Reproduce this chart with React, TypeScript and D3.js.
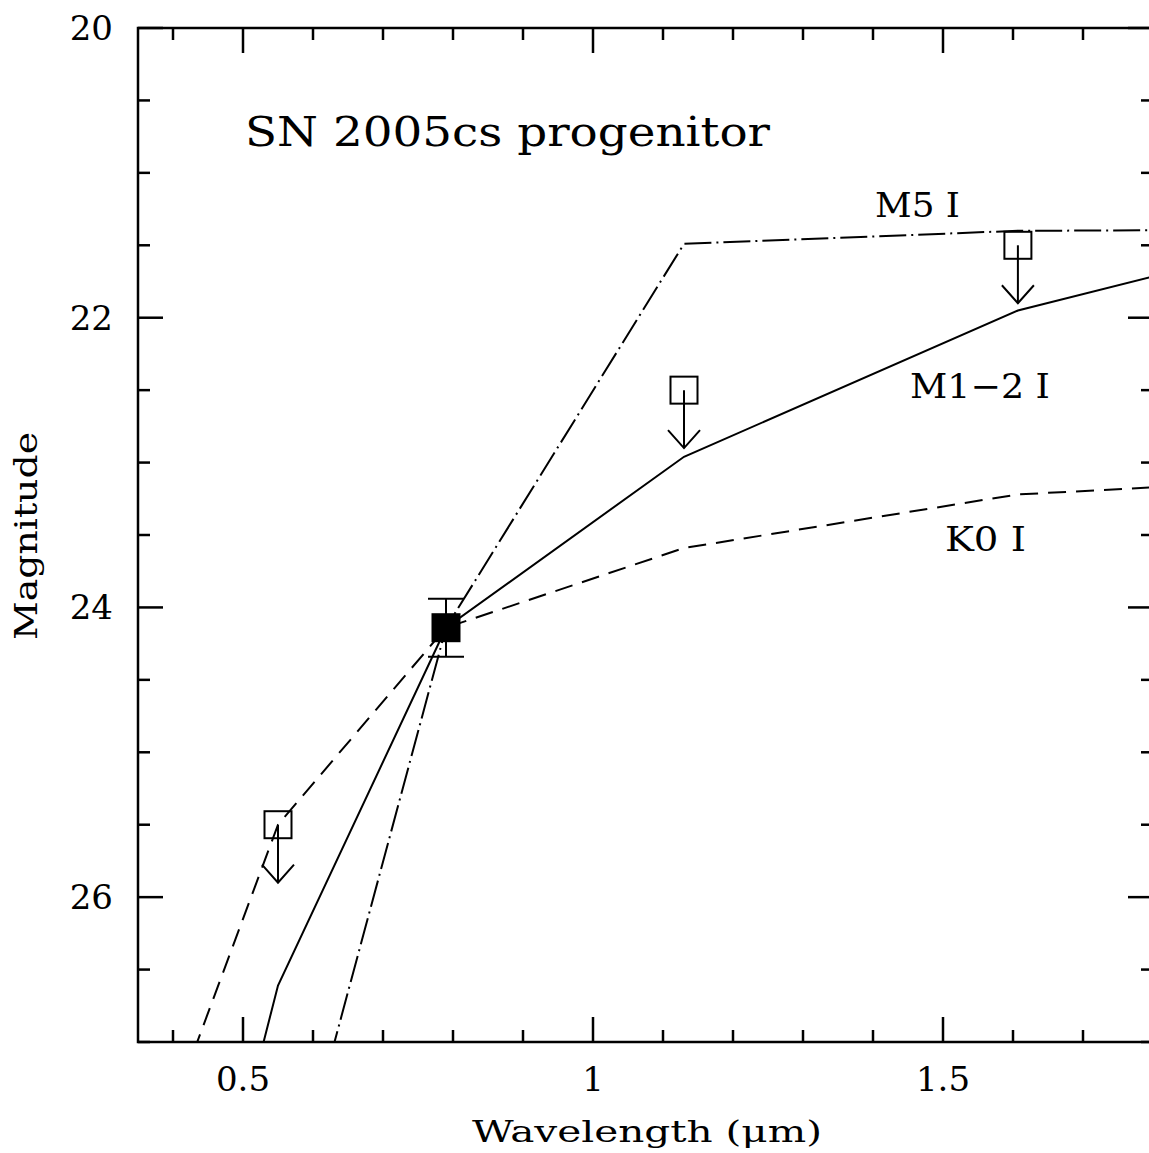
import React from "react";
import * as d3 from "d3";

// filter wavelengths (micron) used by the model SEDs
const bands = [0.36, 0.55, 0.79, 1.13, 1.607, 2.2];

// model magnitudes per band
const m12 = [30.21, 26.61, 24.14, 22.96, 21.95, 21.23];
const k0 = [27.97, 25.5, 24.14, 23.59, 23.22, 23.07];
const m5 = [31.78, 28.45, 24.14, 21.49, 21.4, 21.39];

// detection
const detLam = 0.79;
const detMag = 24.14;
const detErr = 0.2;

// upper limits
const limLam = [0.55, 1.13, 1.607];
const limMag = [25.5, 22.5, 21.5];

const xTicksMajor = [0.5, 1, 1.5];
const yTicksMajor = [20, 22, 24, 26];

const W = 1149;
const H = 1153;
const left = 138;
const top = 28;
const right = 1153;
const bottom = 1042;

const font = "'DejaVu Serif', serif";

export default function App() {
  const x = d3.scaleLinear().domain([0.35, 1.8]).range([left, right]);
  const y = d3.scaleLinear().domain([20, 27]).range([top, bottom]);

  const line = d3
    .line<number>()
    .x((_, i) => x(bands[i]))
    .y((d) => y(d));

  const xMinor = d3.range(4, 18).map((v) => v / 10).filter((v) => !xTicksMajor.some((m) => Math.abs(m - v) < 1e-6));
  const yMinor = d3.range(40, 55).map((v) => v / 2).filter((v) => v % 2 !== 0);

  const sq = 27;
  const arrow = 0.4;

  return (
    <svg width={W} height={H} style={{ position: "absolute", left: 0, top: 0, background: "#fff" }}>
      <defs>
        <clipPath id="plot">
          <rect x={left} y={top} width={right - left} height={bottom - top} />
        </clipPath>
      </defs>

      {/* ticks */}
      <g stroke="#000" strokeWidth={2.5}>
        {xTicksMajor.map((t) => (
          <g key={"xm" + t}>
            <line x1={x(t)} x2={x(t)} y1={bottom} y2={bottom - 25} />
            <line x1={x(t)} x2={x(t)} y1={top} y2={top + 25} />
          </g>
        ))}
        {xMinor.map((t) => (
          <g key={"xn" + t}>
            <line x1={x(t)} x2={x(t)} y1={bottom} y2={bottom - 12} />
            <line x1={x(t)} x2={x(t)} y1={top} y2={top + 12} />
          </g>
        ))}
        {yTicksMajor.map((t) => (
          <g key={"ym" + t}>
            <line x1={left} x2={left + 25} y1={y(t)} y2={y(t)} />
            <line x1={right} x2={right - 25} y1={y(t)} y2={y(t)} />
          </g>
        ))}
        {yMinor.map((t) => (
          <g key={"yn" + t}>
            <line x1={left} x2={left + 12} y1={y(t)} y2={y(t)} />
            <line x1={right} x2={right - 12} y1={y(t)} y2={y(t)} />
          </g>
        ))}
      </g>

      {/* frame */}
      <rect x={left} y={top} width={right - left} height={bottom - top} fill="none" stroke="#000" strokeWidth={2.5} />

      {/* tick labels */}
      <g fontFamily={font} fontSize={34} fill="#000">
        {xTicksMajor.map((t) => (
          <text key={"xl" + t} x={x(t)} y={1091} textAnchor="middle">
            {String(t)}
          </text>
        ))}
        {yTicksMajor.map((t) => (
          <text key={"yl" + t} x={113} y={y(t) + 12} textAnchor="end">
            {String(t)}
          </text>
        ))}
      </g>

      {/* axis titles */}
      <text x={472} y={1142} fontFamily={font} fontSize={30} textLength={350} lengthAdjust="spacingAndGlyphs">
        Wavelength (μm)
      </text>
      <text
        transform="translate(37,640) rotate(-90)"
        fontFamily={font}
        fontSize={31}
        textLength={208}
        lengthAdjust="spacingAndGlyphs"
      >
        Magnitude
      </text>

      {/* models */}
      <g clipPath="url(#plot)" fill="none" stroke="#000" strokeWidth={2}>
        <path d={line(m12) ?? ""} />
        <path d={line(k0) ?? ""} strokeDasharray="18 10" />
        <path d={line(m5) ?? ""} strokeDasharray="27 5 2 5" />
      </g>

      {/* upper limits */}
      <g fill="none" stroke="#000" strokeWidth={2}>
        {limLam.map((l, i) => {
          const cx = x(l);
          const cy = y(limMag[i]);
          const ty = y(limMag[i] + arrow);
          return (
            <g key={"lim" + i}>
              <rect x={cx - sq / 2} y={cy - sq / 2} width={sq} height={sq} fill="#fff" fillOpacity={0} />
              <line x1={cx} x2={cx} y1={cy} y2={ty} />
              <polyline points={`${cx - 16},${ty - 18} ${cx},${ty} ${cx + 16},${ty - 18}`} />
            </g>
          );
        })}
      </g>

      {/* detection */}
      <g stroke="#000" strokeWidth={2}>
        <line x1={x(detLam)} x2={x(detLam)} y1={y(detMag - detErr)} y2={y(detMag + detErr)} />
        <line x1={x(detLam) - 18} x2={x(detLam) + 18} y1={y(detMag - detErr)} y2={y(detMag - detErr)} />
        <line x1={x(detLam) - 18} x2={x(detLam) + 18} y1={y(detMag + detErr)} y2={y(detMag + detErr)} />
        <rect x={x(detLam) - sq / 2} y={y(detMag) - sq / 2} width={sq} height={sq} fill="#000" />
      </g>

      {/* labels */}
      <g fontFamily={font} fill="#000">
        <text x={245} y={146} fontSize={41} textLength={525} lengthAdjust="spacingAndGlyphs">
          SN 2005cs progenitor
        </text>
        <text x={875} y={217} fontSize={34} textLength={85} lengthAdjust="spacingAndGlyphs">
          M5 I
        </text>
        <text x={910} y={398} fontSize={34} textLength={140} lengthAdjust="spacingAndGlyphs">
          M1−2 I
        </text>
        <text x={945} y={551} fontSize={34} textLength={81} lengthAdjust="spacingAndGlyphs">
          K0 I
        </text>
      </g>
    </svg>
  );
}
